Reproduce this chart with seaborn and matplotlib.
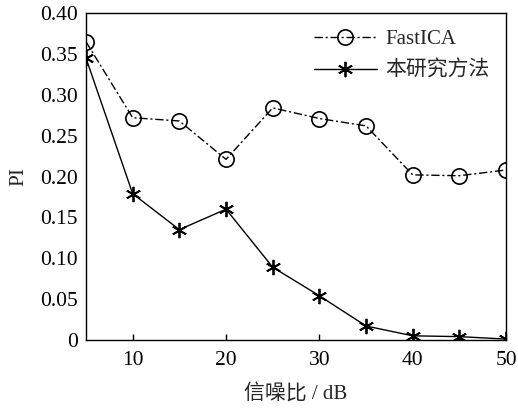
import numpy as np
import pandas as pd
import matplotlib
matplotlib.use("Agg")
import matplotlib.pyplot as plt
import seaborn as sns

# data
snr = [5, 10, 15, 20, 25, 30, 35, 40, 45, 50]
pi_fastica = [0.365, 0.272, 0.268, 0.221, 0.284, 0.271, 0.262, 0.202, 0.201, 0.208]
pi_ours = [0.345, 0.179, 0.135, 0.160, 0.089, 0.054, 0.017, 0.005, 0.004, 0.001]
x_ticks = [10, 20, 30, 40, 50]
y_ticks = [0, 0.05, 0.10, 0.15, 0.20, 0.25, 0.30, 0.35, 0.40]
y_labels = ['0', '0.05', '0.10', '0.15', '0.20', '0.25', '0.30', '0.35', '0.40']

sns.set_style("white")
plt.rcParams['font.family'] = ['Liberation Serif', 'Noto Sans CJK SC']
plt.rcParams['axes.unicode_minus'] = False

df = pd.DataFrame({'snr': snr, 'FastICA': pi_fastica, '本研究方法': pi_ours})

fig = plt.figure(figsize=(5.18, 4.11), dpi=100)
ax = fig.add_axes([0.166, 0.173, 0.811, 0.795])

sns.lineplot(data=df, x='snr', y='FastICA', ax=ax, color='black', linewidth=1.0,
             linestyle=(0, (6, 2, 1.5, 2)), marker='o', markersize=11,
             markerfacecolor='none', markeredgecolor='black', markeredgewidth=1.2,
             label='FastICA')
sns.lineplot(data=df, x='snr', y='本研究方法', ax=ax, color='black', linewidth=1.0,
             marker='*', markersize=11, markerfacecolor='black',
             markeredgecolor='black', markeredgewidth=0.5, label='本研究方法')
# asterisk-like marker
ax.lines[1].set_marker((6, 2, 0))
ax.lines[1].set_markeredgewidth(1.3)

ax.set_xlim(5, 50)
ax.set_ylim(0, 0.40)
ax.set_xticks(x_ticks)
ax.set_xticklabels([str(t) for t in x_ticks])
ax.set_yticks(y_ticks)
ax.set_yticklabels(y_labels)
ax.tick_params(axis='both', direction='in', length=4, width=1, labelsize=15.5, colors='black')
ax.tick_params(axis='x', pad=8, bottom=True)
ax.tick_params(axis='y', left=False, pad=6)

for s in ax.spines.values():
    s.set_color('black')
    s.set_linewidth(1.0)

ax.set_xlabel('信噪比 / dB', fontsize=15, labelpad=10)
ax.set_ylabel('PI', fontsize=15.5, labelpad=8)

leg = ax.legend(loc='upper right', frameon=False, fontsize=15, handlelength=3.0,
                handletextpad=0.4, labelspacing=0.55, borderaxespad=0.4)
leg.legend_handles[1].set_marker((6, 2, 0))

fig.savefig('out.png', dpi=100)
